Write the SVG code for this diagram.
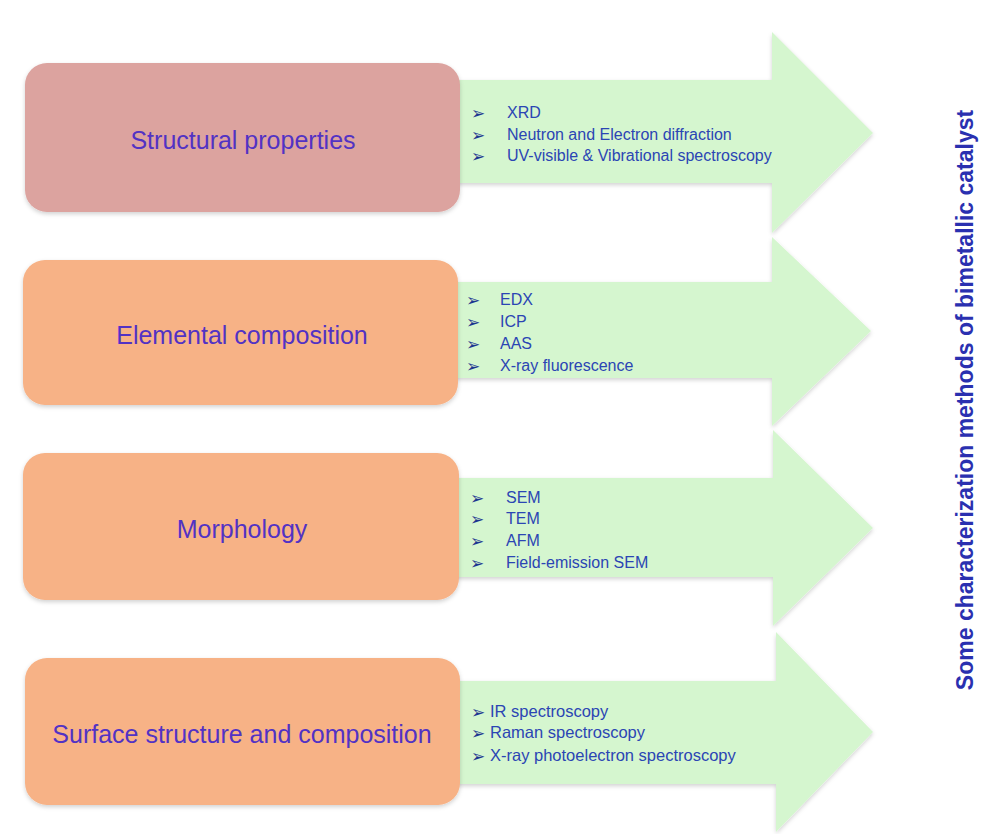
<svg xmlns="http://www.w3.org/2000/svg" width="981" height="834" viewBox="0 0 981 834">
  <defs>
    <filter id="sh" x="-10%" y="-10%" width="120%" height="130%">
      <feDropShadow dx="0" dy="2" stdDeviation="2" flood-color="#000000" flood-opacity="0.18"/>
    </filter>
  </defs>
  <style>
    .arrow { fill: #d5f6cf; filter: url(#sh); }
    .box1 { fill: #dca39f; filter: url(#sh); }
    .box { fill: #f7b286; filter: url(#sh); }
    .label { font-family: "Liberation Sans", Arial, sans-serif; font-size: 25px; fill: #5232c4; text-anchor: middle; }
    .item { font-family: "Liberation Sans", Arial, sans-serif; font-size: 16px; fill: #2b45b4; }
    .item4 { font-family: "Liberation Sans", Arial, sans-serif; font-size: 16.5px; fill: #2b45b4; }
    .bul { font-family: "DejaVu Sans", sans-serif; font-size: 17px; fill: #1c3590; }
    .title { font-family: "Liberation Sans", Arial, sans-serif; font-size: 23px; font-weight: bold; fill: #2a30b0; text-anchor: middle; }
  </style>
  <rect x="0" y="0" width="981" height="834" fill="#ffffff"/>

  <g id="connectors">
    <path class="arrow" d="M455,80 H772 V32 L873,133 L772,233 V183 H455 Z"/>
    <path class="arrow" d="M455,282 H772 V237 L871,331 L772,426 V378 H455 Z"/>
    <path class="arrow" d="M455,478 H773 V430 L873,528 L773,626 V577 H455 Z"/>
    <path class="arrow" d="M455,681 H776 V632 L873,732 L776,832 V784 H455 Z"/>
  </g>

  <g id="node-structural">
    <rect class="box1" x="25" y="63" width="435" height="149" rx="22" ry="22"/>
    <text class="label" x="243" y="149">Structural properties</text>
  </g>
  <g id="list-structural">
    <text class="bul" x="471" y="119">➢</text>
    <text class="bul" x="471" y="141">➢</text>
    <text class="bul" x="471" y="162">➢</text>
    <text class="item" x="507" y="118">XRD</text>
    <text class="item" x="507" y="140">Neutron and Electron diffraction</text>
    <text class="item" x="507" y="161">UV-visible &amp; Vibrational spectroscopy</text>
  </g>

  <g id="node-elemental">
    <rect class="box" x="23" y="260" width="435" height="145" rx="22" ry="22"/>
    <text class="label" x="242" y="344">Elemental composition</text>
  </g>
  <g id="list-elemental">
    <text class="bul" x="466" y="306">➢</text>
    <text class="bul" x="466" y="328">➢</text>
    <text class="bul" x="466" y="350">➢</text>
    <text class="bul" x="466" y="372">➢</text>
    <text class="item" x="500" y="305">EDX</text>
    <text class="item" x="500" y="327">ICP</text>
    <text class="item" x="500" y="349">AAS</text>
    <text class="item" x="500" y="371">X-ray fluorescence</text>
  </g>

  <g id="node-morphology">
    <rect class="box" x="23" y="453" width="436" height="147" rx="22" ry="22"/>
    <text class="label" x="242" y="538">Morphology</text>
  </g>
  <g id="list-morphology">
    <text class="bul" x="470" y="504">➢</text>
    <text class="bul" x="470" y="525">➢</text>
    <text class="bul" x="470" y="547">➢</text>
    <text class="bul" x="470" y="569">➢</text>
    <text class="item" x="506" y="503">SEM</text>
    <text class="item" x="506" y="524">TEM</text>
    <text class="item" x="506" y="546">AFM</text>
    <text class="item" x="506" y="568">Field-emission SEM</text>
  </g>

  <g id="node-surface">
    <rect class="box" x="25" y="658" width="435" height="147" rx="22" ry="22"/>
    <text class="label" x="242" y="743">Surface structure and composition</text>
  </g>
  <g id="list-surface">
    <text class="bul" x="471" y="718">➢</text>
    <text class="bul" x="471" y="739">➢</text>
    <text class="bul" x="471" y="762">➢</text>
    <text class="item4" x="490" y="717">IR spectroscopy</text>
    <text class="item4" x="490" y="738">Raman spectroscopy</text>
    <text class="item4" x="490" y="761">X-ray photoelectron spectroscopy</text>
  </g>

  <g id="title">
    <text class="title" transform="translate(973,400) rotate(-90)" x="0" y="0">Some characterization methods of bimetallic catalyst</text>
  </g>
</svg>
